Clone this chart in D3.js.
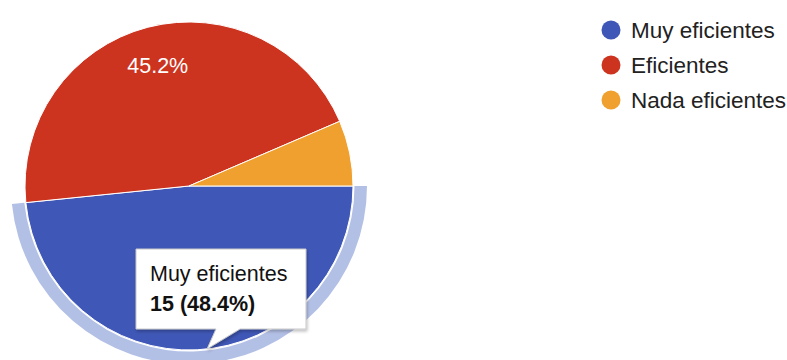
<!DOCTYPE html>
<html>
<head>
<meta charset="utf-8">
<script src="https://cdn.jsdelivr.net/npm/d3@7"></script>
<style>
  html, body { margin: 0; padding: 0; background: #ffffff; }
  svg { display: block; font-family: "Liberation Sans", Arial, sans-serif; }
</style>
</head>
<body>
<svg id="chart" width="787" height="360"></svg>
<script>
// Survey answers and their counts
const categories = ["Muy eficientes", "Eficientes", "Nada eficientes"];
const counts = [15, 14, 2];
const colors = ["#3f57b6", "#cd3420", "#efa02e"];
const highlighted = 0; // slice shown with hover ring and tooltip

const svg = d3.select("#chart");
const cx = 189, cy = 186, R = 164;

const total = d3.sum(counts);
const pct = d => (d / total * 100).toFixed(1) + "%";

const rows = categories.map((c, i) => ({ name: c, value: counts[i], color: colors[i] }));

// Pie starts at 3 o'clock and runs clockwise
const pie = d3.pie().value(d => d.value).sort(null)
  .startAngle(Math.PI / 2).endAngle(Math.PI / 2 + 2 * Math.PI);
const arcs = pie(rows);

const arc = d3.arc().innerRadius(0).outerRadius(R);
const ring = d3.arc().innerRadius(R + 1.5).outerRadius(R + 14);
const labelArc = d3.arc().innerRadius(R * 0.76).outerRadius(R * 0.76);

const g = svg.append("g").attr("transform", `translate(${cx},${cy})`);

// hover ring around the highlighted slice
g.append("path")
  .attr("d", ring(arcs[highlighted]))
  .attr("fill", "#b3c0e6");

g.selectAll("path.slice")
  .data(arcs)
  .join("path")
  .attr("class", "slice")
  .attr("d", arc)
  .attr("fill", d => d.data.color)
  .attr("stroke", "#ffffff")
  .attr("stroke-width", 1);

// percentage labels on slices large enough to hold them;
// the highlighted slice shows its value in the tooltip instead
g.selectAll("text.pct")
  .data(arcs.filter((d, i) => i !== highlighted && d.endAngle - d.startAngle > 0.5))
  .join("text")
  .attr("class", "pct")
  .attr("transform", d => `translate(${labelArc.centroid(d)})`)
  .attr("text-anchor", "middle")
  .attr("dy", "0.35em")
  .attr("fill", "#ffffff")
  .attr("font-size", 21.5)
  .text(d => pct(d.data.value));

// Legend
const legend = svg.append("g").attr("transform", "translate(611,30)");
const item = legend.selectAll("g")
  .data(rows)
  .join("g")
  .attr("transform", (d, i) => `translate(0,${i * 35})`);
item.append("circle").attr("r", 9.5).attr("fill", d => d.color);
item.append("text")
  .attr("x", 20)
  .attr("y", 7.5)
  .attr("font-size", 22.5)
  .attr("fill", "#222222")
  .text(d => d.name);

// Tooltip for the highlighted slice
const tip = svg.append("g");
const bx = 136, by = 249, bw = 170, bh = 80;
const tipPath = `M${bx},${by} H${bx + bw} V${by + bh} H${bx + 104} L${bx + 71},${by + bh + 20} L${bx + 80},${by + bh} H${bx} Z`;
const defs = svg.append("defs");
const f = defs.append("filter").attr("id", "shadow").attr("x", "-10%").attr("y", "-10%").attr("width", "130%").attr("height", "140%");
f.append("feDropShadow").attr("dx", 1).attr("dy", 2).attr("stdDeviation", 1.5).attr("flood-color", "#000").attr("flood-opacity", 0.25);
tip.append("path")
  .attr("d", tipPath)
  .attr("fill", "#ffffff")
  .attr("stroke", "#c8c8c8")
  .attr("stroke-width", 1)
  .attr("filter", "url(#shadow)");
const sel = rows[highlighted];
tip.append("text")
  .attr("x", bx + 14).attr("y", by + 32)
  .attr("font-size", 21.5).attr("fill", "#111111")
  .text(sel.name);
tip.append("text")
  .attr("x", bx + 14).attr("y", by + 62)
  .attr("font-size", 21.5).attr("font-weight", "bold").attr("fill", "#111111")
  .text(`${sel.value} (${pct(sel.value)})`);
</script>
</body>
</html>
